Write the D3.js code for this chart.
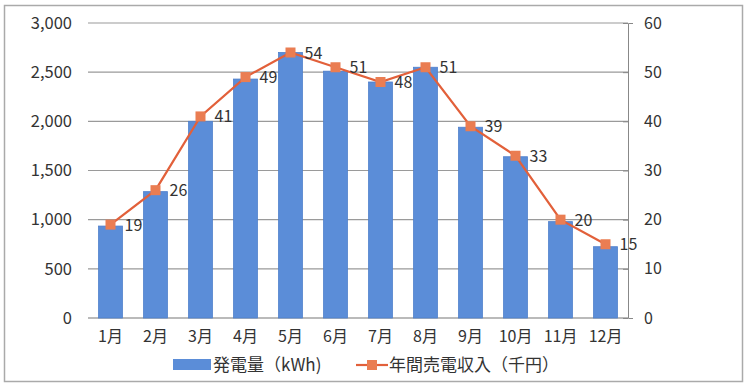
<!DOCTYPE html>
<html>
<head>
<meta charset="utf-8">
<script src="https://cdn.jsdelivr.net/npm/d3@7"></script>
<style>
  body { margin: 0; background: #fff; }
  text { font-family: "Noto Sans CJK JP", "Noto Sans", sans-serif; fill: #333; }
</style>
</head>
<body>
<svg id="chart"></svg>
<script>
// months and series values
const months = ['1月', '2月', '3月', '4月', '5月', '6月', '7月', '8月', '9月', '10月', '11月', '12月'];
const generation = [935, 1285, 2000, 2430, 2700, 2510, 2400, 2550, 1940, 1640, 980, 725];
const income = [19, 26, 41, 49, 54, 51, 48, 51, 39, 33, 20, 15];
const leftTicks = [0, 500, 1000, 1500, 2000, 2500, 3000];
const rightTicks = [0, 10, 20, 30, 40, 50, 60];
const barLabel = '発電量（kWh)';
const lineLabel = '年間売電収入（千円）';

const width = 747, height = 385;
const margin = { top: 23, right: 119, bottom: 67, left: 88 };
const innerW = width - margin.left - margin.right;
const innerH = height - margin.top - margin.bottom;

const svg = d3.select('#chart')
  .attr('width', width)
  .attr('height', height);

// outer frame
svg.append('rect')
  .attr('x', 4.5).attr('y', 5.5)
  .attr('width', 738).attr('height', 376)
  .attr('fill', 'none')
  .attr('stroke', '#aaa')
  .attr('stroke-width', 1.5);

const g = svg.append('g')
  .attr('transform', `translate(${margin.left},${margin.top})`);

const x = d3.scaleBand()
  .domain(months)
  .range([0, innerW])
  .paddingInner(0.47)
  .paddingOuter(0.235);

const yLeft = d3.scaleLinear().domain([0, 3000]).range([innerH, 0]);
const yRight = d3.scaleLinear().domain([0, 60]).range([innerH, 0]);

// gridlines
g.append('g')
  .selectAll('line')
  .data(leftTicks)
  .join('line')
  .attr('x1', 0).attr('x2', innerW)
  .attr('y1', d => yLeft(d)).attr('y2', d => yLeft(d))
  .attr('stroke', d => d === 0 ? '#777' : '#9a9a9a')
  .attr('stroke-width', 1.2);

// left axis labels
const yAxisL = d3.axisLeft(yLeft).tickValues(leftTicks).tickSize(0).tickPadding(16)
  .tickFormat(d3.format(','));
g.append('g').call(yAxisL)
  .call(a => a.select('.domain').remove())
  .selectAll('text')
  .style('font-size', '16.5px')
  .attr('fill', '#333');

// right axis
const yAxisR = d3.axisRight(yRight).tickValues(rightTicks).tickSize(5).tickPadding(11);
g.append('g')
  .attr('transform', `translate(${innerW},0)`)
  .call(yAxisR)
  .call(a => a.select('.domain').attr('stroke', '#888'))
  .call(a => a.selectAll('.tick line').attr('stroke', '#888').attr('x1', -5).attr('x2', 0))
  .selectAll('text')
  .style('font-size', '16px')
  .attr('fill', '#333');

// x axis labels
g.append('g')
  .attr('transform', `translate(0,${innerH})`)
  .call(d3.axisBottom(x).tickSize(0).tickPadding(13))
  .call(a => a.select('.domain').remove())
  .selectAll('text')
  .style('font-size', '16px')
  .attr('fill', '#333');

// bars
g.selectAll('.bar')
  .data(generation)
  .join('rect')
  .attr('class', 'bar')
  .attr('x', (d, i) => x(months[i]))
  .attr('y', d => yLeft(d))
  .attr('width', x.bandwidth())
  .attr('height', d => innerH - yLeft(d))
  .attr('fill', '#5b8dd8')
  .attr('stroke', '#4f7fcb')
  .attr('stroke-width', 0.8);

// line
const cx = i => x(months[i]) + x.bandwidth() / 2;
const line = d3.line()
  .x((d, i) => cx(i))
  .y(d => yRight(d));

g.append('path')
  .datum(income)
  .attr('d', line)
  .attr('fill', 'none')
  .attr('stroke', '#e2603a')
  .attr('stroke-width', 2.2);

g.selectAll('.marker')
  .data(income)
  .join('rect')
  .attr('class', 'marker')
  .attr('x', (d, i) => cx(i) - 5)
  .attr('y', d => yRight(d) - 5)
  .attr('width', 10).attr('height', 10)
  .attr('fill', '#ea7d52');

g.selectAll('.dlabel')
  .data(income)
  .join('text')
  .attr('class', 'dlabel')
  .attr('x', (d, i) => cx(i) + 14)
  .attr('y', d => yRight(d) + 6)
  .style('font-size', '16px')
  .text(d => d);

// legend
const lg = svg.append('g').attr('transform', 'translate(0,365)');
lg.append('rect')
  .attr('x', 173).attr('y', -6)
  .attr('width', 38).attr('height', 11)
  .attr('fill', '#5b8dd8');
lg.append('text')
  .attr('x', 213).attr('y', 6)
  .style('font-size', '17px')
  .text(barLabel);
lg.append('line')
  .attr('x1', 356).attr('x2', 388)
  .attr('y1', 0).attr('y2', 0)
  .attr('stroke', '#e2603a').attr('stroke-width', 2.2);
lg.append('rect')
  .attr('x', 367).attr('y', -5)
  .attr('width', 10).attr('height', 10)
  .attr('fill', '#ea7d52');
lg.append('text')
  .attr('x', 389).attr('y', 6)
  .style('font-size', '17px')
  .text(lineLabel);
</script>
</body>
</html>
